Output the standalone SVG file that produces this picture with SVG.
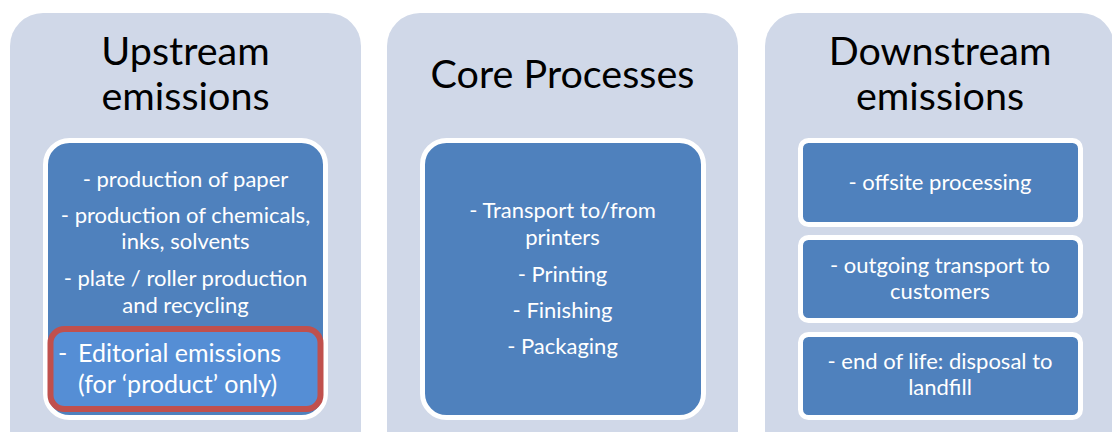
<svg xmlns="http://www.w3.org/2000/svg" width="1112" height="432" viewBox="0 0 1112 432">
<style>
.panel{fill:#D0D8E8}
.inner{fill:#4F81BD;stroke:#FFFFFF;stroke-width:5}
.title{font-family:Lato,"Open Sans",sans-serif;font-size:39.5px;fill:#000;text-anchor:middle}
.item{font-family:Lato,"Open Sans",sans-serif;font-size:22px;fill:#FFFFFF;text-anchor:middle}
.edit{font-family:Lato,"Open Sans",sans-serif;font-size:25px;fill:#FFFFFF}
</style>
<rect width="1112" height="432" fill="#FFFFFF"/>
<g id="upstream">
<rect class="panel" x="10" y="13" width="351" height="450" rx="33"/>
<text class="title" x="185.5" y="65">Upstream</text>
<text class="title" x="185.5" y="110">emissions</text>
<rect class="inner" x="45.5" y="140.5" width="280" height="277" rx="24"/>
<text class="item" x="185.5" y="187">- production of paper</text>
<text class="item" x="185.5" y="223">- production of chemicals,</text>
<text class="item" x="185.5" y="249">inks, solvents</text>
<text class="item" x="185.5" y="286">- plate / roller production</text>
<text class="item" x="185.5" y="313">and recycling</text>
</g>
<g id="editorial">
<rect x="50.5" y="329" width="270" height="80" rx="14" fill="#558ED5" stroke="#C0504D" stroke-width="6"/>
<text class="edit" x="58" y="362">-</text>
<text class="edit" x="78" y="362">Editorial emissions</text>
<text class="edit" x="78" y="393">(for ‘product’ only)</text>
</g>
<g id="core">
<rect class="panel" x="387" y="13" width="351" height="450" rx="33"/>
<text class="title" x="562.5" y="88">Core Processes</text>
<rect class="inner" x="422.5" y="140.5" width="281" height="277" rx="24"/>
<text class="item" x="562.5" y="218">- Transport to/from</text>
<text class="item" x="562.5" y="245">printers</text>
<text class="item" x="562.5" y="282">- Printing</text>
<text class="item" x="562.5" y="318">- Finishing</text>
<text class="item" x="562.5" y="354">- Packaging</text>
</g>
<g id="downstream">
<rect class="panel" x="765" y="13" width="349" height="450" rx="33"/>
<text class="title" x="940" y="65">Downstream</text>
<text class="title" x="940" y="110">emissions</text>
</g>
<g id="offsite">
<rect class="inner" x="800.5" y="140.5" width="280" height="84" rx="8"/>
<text class="item" x="940" y="190">- offsite processing</text>
</g>
<g id="outgoing">
<rect class="inner" x="800.5" y="237.5" width="280" height="83" rx="8"/>
<text class="item" x="940" y="273">- outgoing transport to</text>
<text class="item" x="940" y="299">customers</text>
</g>
<g id="endoflife">
<rect class="inner" x="800.5" y="334.5" width="280" height="83" rx="8"/>
<text class="item" x="940" y="369">- end of life: disposal to</text>
<text class="item" x="940" y="395">landfill</text>
</g>
<g id="connectors"></g>
</svg>
